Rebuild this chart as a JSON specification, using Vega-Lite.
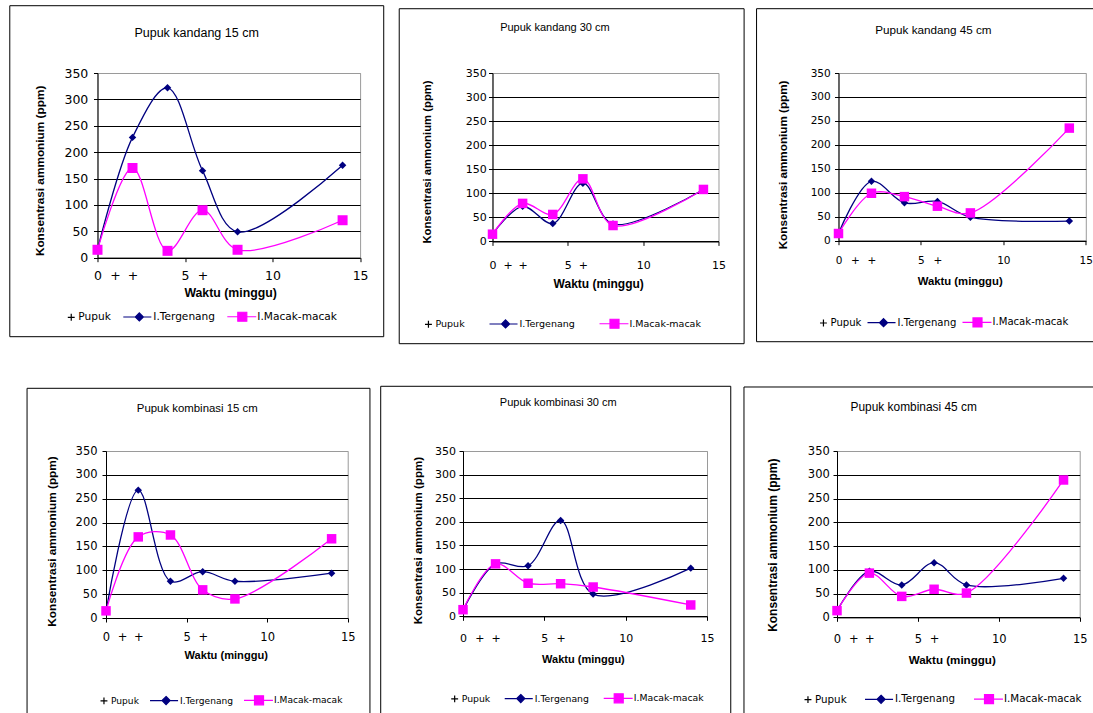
{
  "$schema": "https://vega.github.io/schema/vega-lite/v6.json",
  "usermeta": {"embedOptions": {"actions": false}},
  "background": "white",
  "padding": {"left": 8, "top": 4, "right": -12, "bottom": 0},
  "center": true,
  "spacing": 40,
  "resolve": {"scale": {"fill": "independent", "stroke": "independent", "shape": "independent"}, "legend": {"fill": "independent", "stroke": "independent", "shape": "independent"}},
  "data": {"values": [
    {"panel": "Pupuk kandang 15 cm", "series": "I.Tergenang", "week": 0, "value": 15},
    {"panel": "Pupuk kandang 15 cm", "series": "I.Tergenang", "week": 2, "value": 228},
    {"panel": "Pupuk kandang 15 cm", "series": "I.Tergenang", "week": 4, "value": 322},
    {"panel": "Pupuk kandang 15 cm", "series": "I.Tergenang", "week": 6, "value": 165},
    {"panel": "Pupuk kandang 15 cm", "series": "I.Tergenang", "week": 8, "value": 49},
    {"panel": "Pupuk kandang 15 cm", "series": "I.Tergenang", "week": 14, "value": 175},
    {"panel": "Pupuk kandang 15 cm", "series": "I.Macak-macak", "week": 0, "value": 15},
    {"panel": "Pupuk kandang 15 cm", "series": "I.Macak-macak", "week": 2, "value": 170},
    {"panel": "Pupuk kandang 15 cm", "series": "I.Macak-macak", "week": 4, "value": 13},
    {"panel": "Pupuk kandang 15 cm", "series": "I.Macak-macak", "week": 6, "value": 90},
    {"panel": "Pupuk kandang 15 cm", "series": "I.Macak-macak", "week": 8, "value": 15},
    {"panel": "Pupuk kandang 15 cm", "series": "I.Macak-macak", "week": 14, "value": 71},
    {"panel": "Pupuk kandang 30 cm", "series": "I.Tergenang", "week": 0, "value": 15},
    {"panel": "Pupuk kandang 30 cm", "series": "I.Tergenang", "week": 2, "value": 73},
    {"panel": "Pupuk kandang 30 cm", "series": "I.Tergenang", "week": 4, "value": 37},
    {"panel": "Pupuk kandang 30 cm", "series": "I.Tergenang", "week": 6, "value": 121},
    {"panel": "Pupuk kandang 30 cm", "series": "I.Tergenang", "week": 8, "value": 36},
    {"panel": "Pupuk kandang 30 cm", "series": "I.Tergenang", "week": 14, "value": 108},
    {"panel": "Pupuk kandang 30 cm", "series": "I.Macak-macak", "week": 0, "value": 15},
    {"panel": "Pupuk kandang 30 cm", "series": "I.Macak-macak", "week": 2, "value": 79},
    {"panel": "Pupuk kandang 30 cm", "series": "I.Macak-macak", "week": 4, "value": 56},
    {"panel": "Pupuk kandang 30 cm", "series": "I.Macak-macak", "week": 6, "value": 130},
    {"panel": "Pupuk kandang 30 cm", "series": "I.Macak-macak", "week": 8, "value": 33},
    {"panel": "Pupuk kandang 30 cm", "series": "I.Macak-macak", "week": 14, "value": 108},
    {"panel": "Pupuk kandang 45 cm", "series": "I.Tergenang", "week": 0, "value": 15},
    {"panel": "Pupuk kandang 45 cm", "series": "I.Tergenang", "week": 2, "value": 124},
    {"panel": "Pupuk kandang 45 cm", "series": "I.Tergenang", "week": 4, "value": 79},
    {"panel": "Pupuk kandang 45 cm", "series": "I.Tergenang", "week": 6, "value": 82},
    {"panel": "Pupuk kandang 45 cm", "series": "I.Tergenang", "week": 8, "value": 49},
    {"panel": "Pupuk kandang 45 cm", "series": "I.Tergenang", "week": 14, "value": 41},
    {"panel": "Pupuk kandang 45 cm", "series": "I.Macak-macak", "week": 0, "value": 15},
    {"panel": "Pupuk kandang 45 cm", "series": "I.Macak-macak", "week": 2, "value": 99},
    {"panel": "Pupuk kandang 45 cm", "series": "I.Macak-macak", "week": 4, "value": 92},
    {"panel": "Pupuk kandang 45 cm", "series": "I.Macak-macak", "week": 6, "value": 72},
    {"panel": "Pupuk kandang 45 cm", "series": "I.Macak-macak", "week": 8, "value": 58},
    {"panel": "Pupuk kandang 45 cm", "series": "I.Macak-macak", "week": 14, "value": 235},
    {"panel": "Pupuk kombinasi 15 cm", "series": "I.Tergenang", "week": 0, "value": 14},
    {"panel": "Pupuk kombinasi 15 cm", "series": "I.Tergenang", "week": 2, "value": 268},
    {"panel": "Pupuk kombinasi 15 cm", "series": "I.Tergenang", "week": 4, "value": 77},
    {"panel": "Pupuk kombinasi 15 cm", "series": "I.Tergenang", "week": 6, "value": 97},
    {"panel": "Pupuk kombinasi 15 cm", "series": "I.Tergenang", "week": 8, "value": 77},
    {"panel": "Pupuk kombinasi 15 cm", "series": "I.Tergenang", "week": 14, "value": 94},
    {"panel": "Pupuk kombinasi 15 cm", "series": "I.Macak-macak", "week": 0, "value": 15},
    {"panel": "Pupuk kombinasi 15 cm", "series": "I.Macak-macak", "week": 2, "value": 170},
    {"panel": "Pupuk kombinasi 15 cm", "series": "I.Macak-macak", "week": 4, "value": 174},
    {"panel": "Pupuk kombinasi 15 cm", "series": "I.Macak-macak", "week": 6, "value": 59},
    {"panel": "Pupuk kombinasi 15 cm", "series": "I.Macak-macak", "week": 8, "value": 40},
    {"panel": "Pupuk kombinasi 15 cm", "series": "I.Macak-macak", "week": 14, "value": 166},
    {"panel": "Pupuk kombinasi 30 cm", "series": "I.Tergenang", "week": 0, "value": 13},
    {"panel": "Pupuk kombinasi 30 cm", "series": "I.Tergenang", "week": 2, "value": 111},
    {"panel": "Pupuk kombinasi 30 cm", "series": "I.Tergenang", "week": 4, "value": 107},
    {"panel": "Pupuk kombinasi 30 cm", "series": "I.Tergenang", "week": 6, "value": 203},
    {"panel": "Pupuk kombinasi 30 cm", "series": "I.Tergenang", "week": 8, "value": 47},
    {"panel": "Pupuk kombinasi 30 cm", "series": "I.Tergenang", "week": 14, "value": 102},
    {"panel": "Pupuk kombinasi 30 cm", "series": "I.Macak-macak", "week": 0, "value": 14},
    {"panel": "Pupuk kombinasi 30 cm", "series": "I.Macak-macak", "week": 2, "value": 111},
    {"panel": "Pupuk kombinasi 30 cm", "series": "I.Macak-macak", "week": 4, "value": 70},
    {"panel": "Pupuk kombinasi 30 cm", "series": "I.Macak-macak", "week": 6, "value": 69},
    {"panel": "Pupuk kombinasi 30 cm", "series": "I.Macak-macak", "week": 8, "value": 62},
    {"panel": "Pupuk kombinasi 30 cm", "series": "I.Macak-macak", "week": 14, "value": 24},
    {"panel": "Pupuk kombinasi 45 cm", "series": "I.Tergenang", "week": 0, "value": 14},
    {"panel": "Pupuk kombinasi 45 cm", "series": "I.Tergenang", "week": 2, "value": 97},
    {"panel": "Pupuk kombinasi 45 cm", "series": "I.Tergenang", "week": 4, "value": 68},
    {"panel": "Pupuk kombinasi 45 cm", "series": "I.Tergenang", "week": 6, "value": 115},
    {"panel": "Pupuk kombinasi 45 cm", "series": "I.Tergenang", "week": 8, "value": 68},
    {"panel": "Pupuk kombinasi 45 cm", "series": "I.Tergenang", "week": 14, "value": 82},
    {"panel": "Pupuk kombinasi 45 cm", "series": "I.Macak-macak", "week": 0, "value": 14},
    {"panel": "Pupuk kombinasi 45 cm", "series": "I.Macak-macak", "week": 2, "value": 93},
    {"panel": "Pupuk kombinasi 45 cm", "series": "I.Macak-macak", "week": 4, "value": 44},
    {"panel": "Pupuk kombinasi 45 cm", "series": "I.Macak-macak", "week": 6, "value": 59},
    {"panel": "Pupuk kombinasi 45 cm", "series": "I.Macak-macak", "week": 8, "value": 51},
    {"panel": "Pupuk kombinasi 45 cm", "series": "I.Macak-macak", "week": 14, "value": 289}
  ]},
  "vconcat": [
    {"spacing": 12,
     "resolve": {"scale": {"fill": "independent", "stroke": "independent", "shape": "independent"}, "legend": {"fill": "independent", "stroke": "independent", "shape": "independent"}},
     "hconcat": [
      {
        "width": 262.6, "height": 184.7,
        "title": {"text": "Pupuk kandang 15 cm", "fontSize": 12.5, "offset": -34.5, "dx": -32.2},
        "layer": [
          {"data": {"values": [{}]}, "mark": {"type": "rect", "filled": false, "stroke": "#000000", "strokeWidth": 1},
           "encoding": {
             "x": {"datum": -5.01, "type": "quantitative", "scale": {"domain": [0, 15], "nice": false, "zero": false},
                   "axis": {"title": "Waktu (minggu)", "values": [0, 1, 2, 5, 6, 10, 15], "labelExpr": "datum.value == 1 || datum.value == 2 || datum.value == 6 ? '+' : datum.label", "tickOpacity": {"condition": {"test": "datum.value == 1 || datum.value == 2 || datum.value == 6", "value": 0}, "value": 1}, "labelFontSize": 12.5, "labelPadding": 8, "titleFontSize": 12.3, "titleX": 132.6, "titleY": 35, "titleAlign": "center", "titleBaseline": "middle", "grid": false}},
             "x2": {"datum": 16.35},
             "y": {"datum": -149.7, "type": "quantitative", "scale": {"domain": [0, 350], "nice": false},
                   "axis": {"title": "Konsentrasi ammonium (ppm)", "values": [0, 50, 100, 150, 200, 250, 300, 350], "grid": true, "gridColor": {"condition": {"test": "datum.value == 350", "value": "#9a9a9a"}, "value": "#000"}, "labelFontSize": 12.5, "labelPadding": 5.7, "titleFontSize": 11.8, "titleX": -58.2, "titleY": 97.4, "titleAlign": "center", "titleBaseline": "middle"}},
             "y2": {"datum": 477.5}}},
          {"encoding": {
             "x": {"field": "week", "type": "quantitative", "scale": {"domain": [0, 15], "nice": false, "zero": false},
                   "axis": {"title": "Waktu (minggu)", "values": [0, 1, 2, 5, 6, 10, 15], "labelExpr": "datum.value == 1 || datum.value == 2 || datum.value == 6 ? '+' : datum.label", "tickOpacity": {"condition": {"test": "datum.value == 1 || datum.value == 2 || datum.value == 6", "value": 0}, "value": 1}, "labelFontSize": 12.5, "labelPadding": 8, "titleFontSize": 12.3, "titleX": 132.6, "titleY": 35, "titleAlign": "center", "titleBaseline": "middle", "grid": false}},
             "y": {"field": "value", "type": "quantitative", "scale": {"domain": [0, 350], "nice": false},
                   "axis": {"title": "Konsentrasi ammonium (ppm)", "values": [0, 50, 100, 150, 200, 250, 300, 350], "grid": true, "gridColor": {"condition": {"test": "datum.value == 350", "value": "#9a9a9a"}, "value": "#000"}, "labelFontSize": 12.5, "labelPadding": 5.7, "titleFontSize": 11.8, "titleX": -58.2, "titleY": 97.4, "titleAlign": "center", "titleBaseline": "middle"}}},
           "layer": [
            {"transform": [{"filter": "datum.panel === 'Pupuk kandang 15 cm' && datum.series === 'I.Tergenang'"}],
             "mark": {"type": "line", "interpolate": "catmull-rom", "strokeWidth": 1.3, "color": "#000080"}},
            {"transform": [{"filter": "datum.panel === 'Pupuk kandang 15 cm' && datum.series === 'I.Tergenang'"}],
             "mark": {"type": "point", "shape": "diamond", "filled": true, "size": 56, "color": "#000080", "opacity": 1}},
            {"transform": [{"filter": "datum.panel === 'Pupuk kandang 15 cm' && datum.series === 'I.Macak-macak'"}],
             "mark": {"type": "line", "interpolate": "catmull-rom", "strokeWidth": 1.3, "color": "#ff00ff"}},
            {"transform": [{"filter": "datum.panel === 'Pupuk kandang 15 cm' && datum.series === 'I.Macak-macak'"}],
             "mark": {"type": "point", "shape": "square", "filled": true, "size": 100, "color": "#ff00ff", "opacity": 1}},
            {"transform": [{"filter": "false"}],
             "mark": {"type": "point", "filled": true, "opacity": 1},
             "encoding": {
               "fill": {"field": "series", "type": "nominal", "scale": {"domain": ["Pupuk", "I.Tergenang", "I.Macak-macak"], "range": ["#000000", "#000080", "#ff00ff"]},
                        "legend": {"title": null, "orient": "none", "direction": "horizontal", "legendX": -53.2, "legendY": 227.7, "labelFontSize": 10.6, "columnPadding": 8, "symbolSize": 900, "symbolStrokeWidth": 1.2, "labelOffset": 2, "padding": 0}},
               "stroke": {"field": "series", "type": "nominal", "scale": {"domain": ["Pupuk", "I.Tergenang", "I.Macak-macak"], "range": ["#000000", "#000080", "#ff00ff"]},
                        "legend": {"title": null, "orient": "none", "direction": "horizontal", "legendX": -53.2, "legendY": 227.7, "labelFontSize": 10.6, "columnPadding": 8, "symbolSize": 900, "symbolStrokeWidth": 1.2, "labelOffset": 2, "padding": 0}},
               "shape": {"field": "series", "type": "nominal", "scale": {"domain": ["Pupuk", "I.Tergenang", "I.Macak-macak"], "range": ["M0.5,0H0.96M0.73,-0.23V0.23", "M-0.8,0H1.07M0.27,-0.27L0.54,0L0.27,0.27L0,0Z", "M-0.8,0H1.13M-0.1,-0.3H0.5V0.3H-0.1Z"]},
                        "legend": {"title": null, "orient": "none", "direction": "horizontal", "legendX": -53.2, "legendY": 227.7, "labelFontSize": 10.6, "columnPadding": 8, "symbolSize": 900, "symbolStrokeWidth": 1.2, "labelOffset": 2, "padding": 0}}}}
           ]}
        ]
      },
      {"spacing": 10,
       "resolve": {"scale": {"fill": "independent", "stroke": "independent", "shape": "independent"}, "legend": {"fill": "independent", "stroke": "independent", "shape": "independent"}},
       "hconcat": [
        {
          "width": 226, "height": 168.4,
          "title": {"text": "Pupuk kandang 30 cm", "fontSize": 11, "offset": -25.2, "dx": -50.6},
          "layer": [
            {"data": {"values": [{}]}, "mark": {"type": "rect", "filled": false, "stroke": "#000000", "strokeWidth": 1},
             "encoding": {
               "x": {"datum": -6.19, "type": "quantitative", "scale": {"domain": [0, 15], "nice": false, "zero": false},
                     "axis": {"title": "Waktu (minggu)", "values": [0, 1, 2, 5, 6, 10, 15], "labelExpr": "datum.value == 1 || datum.value == 2 || datum.value == 6 ? '+' : datum.label", "tickOpacity": {"condition": {"test": "datum.value == 1 || datum.value == 2 || datum.value == 6", "value": 0}, "value": 1}, "labelFontSize": 11, "labelPadding": 14, "titleFontSize": 12.0, "titleX": 105.7, "titleY": 42, "titleAlign": "center", "titleBaseline": "middle", "grid": false}},
               "x2": {"datum": 16.70},
               "y": {"datum": -212.6, "type": "quantitative", "scale": {"domain": [0, 350], "nice": false},
                     "axis": {"title": "Konsentrasi ammonium (ppm)", "values": [0, 50, 100, 150, 200, 250, 300, 350], "grid": true, "gridColor": {"condition": {"test": "datum.value == 350", "value": "#9a9a9a"}, "value": "#000"}, "labelFontSize": 11, "labelPadding": 2.3, "titleFontSize": 11.3, "titleX": -65.1, "titleY": 88.5, "titleAlign": "center", "titleBaseline": "middle"}},
               "y2": {"datum": 483.6}}},
            {"encoding": {
               "x": {"field": "week", "type": "quantitative", "scale": {"domain": [0, 15], "nice": false, "zero": false},
                     "axis": {"title": "Waktu (minggu)", "values": [0, 1, 2, 5, 6, 10, 15], "labelExpr": "datum.value == 1 || datum.value == 2 || datum.value == 6 ? '+' : datum.label", "tickOpacity": {"condition": {"test": "datum.value == 1 || datum.value == 2 || datum.value == 6", "value": 0}, "value": 1}, "labelFontSize": 11, "labelPadding": 14, "titleFontSize": 12.0, "titleX": 105.7, "titleY": 42, "titleAlign": "center", "titleBaseline": "middle", "grid": false}},
               "y": {"field": "value", "type": "quantitative", "scale": {"domain": [0, 350], "nice": false},
                     "axis": {"title": "Konsentrasi ammonium (ppm)", "values": [0, 50, 100, 150, 200, 250, 300, 350], "grid": true, "gridColor": {"condition": {"test": "datum.value == 350", "value": "#9a9a9a"}, "value": "#000"}, "labelFontSize": 11, "labelPadding": 2.3, "titleFontSize": 11.3, "titleX": -65.1, "titleY": 88.5, "titleAlign": "center", "titleBaseline": "middle"}}},
             "layer": [
              {"transform": [{"filter": "datum.panel === 'Pupuk kandang 30 cm' && datum.series === 'I.Tergenang'"}],
               "mark": {"type": "line", "interpolate": "catmull-rom", "strokeWidth": 1.3, "color": "#000080"}},
              {"transform": [{"filter": "datum.panel === 'Pupuk kandang 30 cm' && datum.series === 'I.Tergenang'"}],
               "mark": {"type": "point", "shape": "diamond", "filled": true, "size": 56, "color": "#000080", "opacity": 1}},
              {"transform": [{"filter": "datum.panel === 'Pupuk kandang 30 cm' && datum.series === 'I.Macak-macak'"}],
               "mark": {"type": "line", "interpolate": "catmull-rom", "strokeWidth": 1.3, "color": "#ff00ff"}},
              {"transform": [{"filter": "datum.panel === 'Pupuk kandang 30 cm' && datum.series === 'I.Macak-macak'"}],
               "mark": {"type": "point", "shape": "square", "filled": true, "size": 90, "color": "#ff00ff", "opacity": 1}},
              {"transform": [{"filter": "false"}],
               "mark": {"type": "point", "filled": true, "opacity": 1},
               "encoding": {
                 "fill": {"field": "series", "type": "nominal", "scale": {"domain": ["Pupuk", "I.Tergenang", "I.Macak-macak"], "range": ["#000000", "#000080", "#ff00ff"]},
                          "legend": {"title": null, "orient": "none", "direction": "horizontal", "legendX": -91, "legendY": 234.7, "labelFontSize": 9.5, "columnPadding": 20, "symbolSize": 900, "symbolStrokeWidth": 1.2, "labelOffset": 2, "padding": 0}},
                 "stroke": {"field": "series", "type": "nominal", "scale": {"domain": ["Pupuk", "I.Tergenang", "I.Macak-macak"], "range": ["#000000", "#000080", "#ff00ff"]},
                          "legend": {"title": null, "orient": "none", "direction": "horizontal", "legendX": -91, "legendY": 234.7, "labelFontSize": 9.5, "columnPadding": 20, "symbolSize": 900, "symbolStrokeWidth": 1.2, "labelOffset": 2, "padding": 0}},
                 "shape": {"field": "series", "type": "nominal", "scale": {"domain": ["Pupuk", "I.Tergenang", "I.Macak-macak"], "range": ["M0.5,0H0.96M0.73,-0.23V0.23", "M-0.8,0H1.07M0.27,-0.27L0.54,0L0.27,0.27L0,0Z", "M-0.8,0H1.13M-0.1,-0.3H0.5V0.3H-0.1Z"]},
                          "legend": {"title": null, "orient": "none", "direction": "horizontal", "legendX": -91, "legendY": 234.7, "labelFontSize": 9.5, "columnPadding": 20, "symbolSize": 900, "symbolStrokeWidth": 1.2, "labelOffset": 2, "padding": 0}}}}
             ]}
          ]
        },
        {
          "width": 247.3, "height": 167.7,
          "title": {"text": "Pupuk kandang 45 cm", "fontSize": 11.7, "offset": -28.5, "dx": -28.7},
          "layer": [
            {"data": {"values": [{}]}, "mark": {"type": "rect", "filled": false, "stroke": "#000000", "strokeWidth": 1},
             "encoding": {
               "x": {"datum": -4.97, "type": "quantitative", "scale": {"domain": [0, 15], "nice": false, "zero": false},
                     "axis": {"title": "Waktu (minggu)", "values": [0, 1, 2, 5, 6, 10, 15], "labelExpr": "datum.value == 1 || datum.value == 2 || datum.value == 6 ? '+' : datum.label", "tickOpacity": {"condition": {"test": "datum.value == 1 || datum.value == 2 || datum.value == 6", "value": 0}, "value": 1}, "labelFontSize": 10.5, "labelPadding": 11, "titleFontSize": 11.3, "titleX": 121.2, "titleY": 40.7, "titleAlign": "center", "titleBaseline": "middle", "grid": false}},
               "x2": {"datum": 16.62},
               "y": {"datum": -210.8, "type": "quantitative", "scale": {"domain": [0, 350], "nice": false},
                     "axis": {"title": "Konsentrasi ammonium (ppm)", "values": [0, 50, 100, 150, 200, 250, 300, 350], "grid": true, "gridColor": {"condition": {"test": "datum.value == 350", "value": "#9a9a9a"}, "value": "#000"}, "labelFontSize": 10.5, "labelPadding": 4.3, "titleFontSize": 11.7, "titleX": -55.5, "titleY": 91.4, "titleAlign": "center", "titleBaseline": "middle"}},
               "y2": {"datum": 484.2}}},
            {"encoding": {
               "x": {"field": "week", "type": "quantitative", "scale": {"domain": [0, 15], "nice": false, "zero": false},
                     "axis": {"title": "Waktu (minggu)", "values": [0, 1, 2, 5, 6, 10, 15], "labelExpr": "datum.value == 1 || datum.value == 2 || datum.value == 6 ? '+' : datum.label", "tickOpacity": {"condition": {"test": "datum.value == 1 || datum.value == 2 || datum.value == 6", "value": 0}, "value": 1}, "labelFontSize": 10.5, "labelPadding": 11, "titleFontSize": 11.3, "titleX": 121.2, "titleY": 40.7, "titleAlign": "center", "titleBaseline": "middle", "grid": false}},
               "y": {"field": "value", "type": "quantitative", "scale": {"domain": [0, 350], "nice": false},
                     "axis": {"title": "Konsentrasi ammonium (ppm)", "values": [0, 50, 100, 150, 200, 250, 300, 350], "grid": true, "gridColor": {"condition": {"test": "datum.value == 350", "value": "#9a9a9a"}, "value": "#000"}, "labelFontSize": 10.5, "labelPadding": 4.3, "titleFontSize": 11.7, "titleX": -55.5, "titleY": 91.4, "titleAlign": "center", "titleBaseline": "middle"}}},
             "layer": [
              {"transform": [{"filter": "datum.panel === 'Pupuk kandang 45 cm' && datum.series === 'I.Tergenang'"}],
               "mark": {"type": "line", "interpolate": "catmull-rom", "strokeWidth": 1.3, "color": "#000080"}},
              {"transform": [{"filter": "datum.panel === 'Pupuk kandang 45 cm' && datum.series === 'I.Tergenang'"}],
               "mark": {"type": "point", "shape": "diamond", "filled": true, "size": 56, "color": "#000080", "opacity": 1}},
              {"transform": [{"filter": "datum.panel === 'Pupuk kandang 45 cm' && datum.series === 'I.Macak-macak'"}],
               "mark": {"type": "line", "interpolate": "catmull-rom", "strokeWidth": 1.3, "color": "#ff00ff"}},
              {"transform": [{"filter": "datum.panel === 'Pupuk kandang 45 cm' && datum.series === 'I.Macak-macak'"}],
               "mark": {"type": "point", "shape": "square", "filled": true, "size": 90, "color": "#ff00ff", "opacity": 1}},
              {"transform": [{"filter": "false"}],
               "mark": {"type": "point", "filled": true, "opacity": 1},
               "encoding": {
                 "fill": {"field": "series", "type": "nominal", "scale": {"domain": ["Pupuk", "I.Tergenang", "I.Macak-macak"], "range": ["#000000", "#000080", "#ff00ff"]},
                          "legend": {"title": null, "orient": "none", "direction": "horizontal", "legendX": -42, "legendY": 233.4, "labelFontSize": 10.1, "columnPadding": 2, "symbolSize": 900, "symbolStrokeWidth": 1.2, "labelOffset": 2, "padding": 0}},
                 "stroke": {"field": "series", "type": "nominal", "scale": {"domain": ["Pupuk", "I.Tergenang", "I.Macak-macak"], "range": ["#000000", "#000080", "#ff00ff"]},
                          "legend": {"title": null, "orient": "none", "direction": "horizontal", "legendX": -42, "legendY": 233.4, "labelFontSize": 10.1, "columnPadding": 2, "symbolSize": 900, "symbolStrokeWidth": 1.2, "labelOffset": 2, "padding": 0}},
                 "shape": {"field": "series", "type": "nominal", "scale": {"domain": ["Pupuk", "I.Tergenang", "I.Macak-macak"], "range": ["M0.5,0H0.96M0.73,-0.23V0.23", "M-0.8,0H1.07M0.27,-0.27L0.54,0L0.27,0.27L0,0Z", "M-0.8,0H1.13M-0.1,-0.3H0.5V0.3H-0.1Z"]},
                          "legend": {"title": null, "orient": "none", "direction": "horizontal", "legendX": -42, "legendY": 233.4, "labelFontSize": 10.1, "columnPadding": 2, "symbolSize": 900, "symbolStrokeWidth": 1.2, "labelOffset": 2, "padding": 0}}}}
             ]}
          ]
        }
      ]}
    ]},
    {"spacing": 8,
     "resolve": {"scale": {"fill": "independent", "stroke": "independent", "shape": "independent"}, "legend": {"fill": "independent", "stroke": "independent", "shape": "independent"}},
     "hconcat": [
      {
        "width": 241.7, "height": 167,
        "title": {"text": "Pupuk kombinasi 15 cm", "fontSize": 11.4, "offset": -26.2, "dx": -29.6},
        "layer": [
          {"data": {"values": [{}]}, "mark": {"type": "rect", "filled": false, "stroke": "#000000", "strokeWidth": 1},
           "encoding": {
             "x": {"datum": -4.90, "type": "quantitative", "scale": {"domain": [0, 15], "nice": false, "zero": false},
                   "axis": {"title": "Waktu (minggu)", "values": [0, 1, 2, 5, 6, 10, 15], "labelExpr": "datum.value == 1 || datum.value == 2 || datum.value == 6 ? '+' : datum.label", "tickOpacity": {"condition": {"test": "datum.value == 1 || datum.value == 2 || datum.value == 6", "value": 0}, "value": 1}, "labelFontSize": 11.5, "labelPadding": 9.5, "titleFontSize": 11.1, "titleX": 119.7, "titleY": 37.6, "titleAlign": "center", "titleBaseline": "middle", "grid": false}},
             "x2": {"datum": 16.38},
             "y": {"datum": -208.1, "type": "quantitative", "scale": {"domain": [0, 350], "nice": false},
                   "axis": {"title": "Konsentrasi ammonium (ppm)", "values": [0, 50, 100, 150, 200, 250, 300, 350], "grid": true, "gridColor": {"condition": {"test": "datum.value == 350", "value": "#9a9a9a"}, "value": "#000"}, "labelFontSize": 11.5, "labelPadding": 5, "titleFontSize": 11.8, "titleX": -54.2, "titleY": 90, "titleAlign": "center", "titleBaseline": "middle"}},
             "y2": {"datum": 481.4}}},
          {"encoding": {
             "x": {"field": "week", "type": "quantitative", "scale": {"domain": [0, 15], "nice": false, "zero": false},
                   "axis": {"title": "Waktu (minggu)", "values": [0, 1, 2, 5, 6, 10, 15], "labelExpr": "datum.value == 1 || datum.value == 2 || datum.value == 6 ? '+' : datum.label", "tickOpacity": {"condition": {"test": "datum.value == 1 || datum.value == 2 || datum.value == 6", "value": 0}, "value": 1}, "labelFontSize": 11.5, "labelPadding": 9.5, "titleFontSize": 11.1, "titleX": 119.7, "titleY": 37.6, "titleAlign": "center", "titleBaseline": "middle", "grid": false}},
             "y": {"field": "value", "type": "quantitative", "scale": {"domain": [0, 350], "nice": false},
                   "axis": {"title": "Konsentrasi ammonium (ppm)", "values": [0, 50, 100, 150, 200, 250, 300, 350], "grid": true, "gridColor": {"condition": {"test": "datum.value == 350", "value": "#9a9a9a"}, "value": "#000"}, "labelFontSize": 11.5, "labelPadding": 5, "titleFontSize": 11.8, "titleX": -54.2, "titleY": 90, "titleAlign": "center", "titleBaseline": "middle"}}},
           "layer": [
            {"transform": [{"filter": "datum.panel === 'Pupuk kombinasi 15 cm' && datum.series === 'I.Tergenang'"}],
             "mark": {"type": "line", "interpolate": "catmull-rom", "strokeWidth": 1.3, "color": "#000080"}},
            {"transform": [{"filter": "datum.panel === 'Pupuk kombinasi 15 cm' && datum.series === 'I.Tergenang'"}],
             "mark": {"type": "point", "shape": "diamond", "filled": true, "size": 56, "color": "#000080", "opacity": 1}},
            {"transform": [{"filter": "datum.panel === 'Pupuk kombinasi 15 cm' && datum.series === 'I.Macak-macak'"}],
             "mark": {"type": "line", "interpolate": "catmull-rom", "strokeWidth": 1.3, "color": "#ff00ff"}},
            {"transform": [{"filter": "datum.panel === 'Pupuk kombinasi 15 cm' && datum.series === 'I.Macak-macak'"}],
             "mark": {"type": "point", "shape": "square", "filled": true, "size": 90, "color": "#ff00ff", "opacity": 1}},
            {"transform": [{"filter": "false"}],
             "mark": {"type": "point", "filled": true, "opacity": 1},
             "encoding": {
               "fill": {"field": "series", "type": "nominal", "scale": {"domain": ["Pupuk", "I.Tergenang", "I.Macak-macak"], "range": ["#000000", "#000080", "#ff00ff"]},
                        "legend": {"title": null, "orient": "none", "direction": "horizontal", "legendX": -29, "legendY": 233.3, "labelFontSize": 9.1, "columnPadding": 7, "symbolSize": 900, "symbolStrokeWidth": 1.2, "labelOffset": 2, "padding": 0}},
               "stroke": {"field": "series", "type": "nominal", "scale": {"domain": ["Pupuk", "I.Tergenang", "I.Macak-macak"], "range": ["#000000", "#000080", "#ff00ff"]},
                        "legend": {"title": null, "orient": "none", "direction": "horizontal", "legendX": -29, "legendY": 233.3, "labelFontSize": 9.1, "columnPadding": 7, "symbolSize": 900, "symbolStrokeWidth": 1.2, "labelOffset": 2, "padding": 0}},
               "shape": {"field": "series", "type": "nominal", "scale": {"domain": ["Pupuk", "I.Tergenang", "I.Macak-macak"], "range": ["M0.5,0H0.96M0.73,-0.23V0.23", "M-0.8,0H1.07M0.27,-0.27L0.54,0L0.27,0.27L0,0Z", "M-0.8,0H1.13M-0.1,-0.3H0.5V0.3H-0.1Z"]},
                        "legend": {"title": null, "orient": "none", "direction": "horizontal", "legendX": -29, "legendY": 233.3, "labelFontSize": 9.1, "columnPadding": 7, "symbolSize": 900, "symbolStrokeWidth": 1.2, "labelOffset": 2, "padding": 0}}}}
           ]}
        ]
      },
      {"spacing": 10,
       "resolve": {"scale": {"fill": "independent", "stroke": "independent", "shape": "independent"}, "legend": {"fill": "independent", "stroke": "independent", "shape": "independent"}},
       "hconcat": [
        {
          "width": 244, "height": 165.3,
          "title": {"text": "Pupuk kombinasi 30 cm", "fontSize": 11, "offset": -22.3, "dx": -26.8},
          "layer": [
            {"data": {"values": [{}]}, "mark": {"type": "rect", "filled": false, "stroke": "#000000", "strokeWidth": 1},
             "encoding": {
               "x": {"datum": -5.06, "type": "quantitative", "scale": {"domain": [0, 15], "nice": false, "zero": false},
                     "axis": {"title": "Waktu (minggu)", "values": [0, 1, 2, 5, 6, 10, 15], "labelExpr": "datum.value == 1 || datum.value == 2 || datum.value == 6 ? '+' : datum.label", "tickOpacity": {"condition": {"test": "datum.value == 1 || datum.value == 2 || datum.value == 6", "value": 0}, "value": 1}, "labelFontSize": 11, "labelPadding": 12.6, "titleFontSize": 11.0, "titleX": 119.9, "titleY": 43, "titleAlign": "center", "titleBaseline": "middle", "grid": false}},
               "x2": {"datum": 16.46},
               "y": {"datum": -209.6, "type": "quantitative", "scale": {"domain": [0, 350], "nice": false},
                     "axis": {"title": "Konsentrasi ammonium (ppm)", "values": [0, 50, 100, 150, 200, 250, 300, 350], "grid": true, "gridColor": {"condition": {"test": "datum.value == 350", "value": "#9a9a9a"}, "value": "#000"}, "labelFontSize": 11, "labelPadding": 3.6, "titleFontSize": 11.6, "titleX": -44.3, "titleY": 89.1, "titleAlign": "center", "titleBaseline": "middle"}},
               "y2": {"datum": 487.0}}},
            {"encoding": {
               "x": {"field": "week", "type": "quantitative", "scale": {"domain": [0, 15], "nice": false, "zero": false},
                     "axis": {"title": "Waktu (minggu)", "values": [0, 1, 2, 5, 6, 10, 15], "labelExpr": "datum.value == 1 || datum.value == 2 || datum.value == 6 ? '+' : datum.label", "tickOpacity": {"condition": {"test": "datum.value == 1 || datum.value == 2 || datum.value == 6", "value": 0}, "value": 1}, "labelFontSize": 11, "labelPadding": 12.6, "titleFontSize": 11.0, "titleX": 119.9, "titleY": 43, "titleAlign": "center", "titleBaseline": "middle", "grid": false}},
               "y": {"field": "value", "type": "quantitative", "scale": {"domain": [0, 350], "nice": false},
                     "axis": {"title": "Konsentrasi ammonium (ppm)", "values": [0, 50, 100, 150, 200, 250, 300, 350], "grid": true, "gridColor": {"condition": {"test": "datum.value == 350", "value": "#9a9a9a"}, "value": "#000"}, "labelFontSize": 11, "labelPadding": 3.6, "titleFontSize": 11.6, "titleX": -44.3, "titleY": 89.1, "titleAlign": "center", "titleBaseline": "middle"}}},
             "layer": [
              {"transform": [{"filter": "datum.panel === 'Pupuk kombinasi 30 cm' && datum.series === 'I.Tergenang'"}],
               "mark": {"type": "line", "interpolate": "catmull-rom", "strokeWidth": 1.3, "color": "#000080"}},
              {"transform": [{"filter": "datum.panel === 'Pupuk kombinasi 30 cm' && datum.series === 'I.Tergenang'"}],
               "mark": {"type": "point", "shape": "diamond", "filled": true, "size": 56, "color": "#000080", "opacity": 1}},
              {"transform": [{"filter": "datum.panel === 'Pupuk kombinasi 30 cm' && datum.series === 'I.Macak-macak'"}],
               "mark": {"type": "line", "interpolate": "catmull-rom", "strokeWidth": 1.3, "color": "#ff00ff"}},
              {"transform": [{"filter": "datum.panel === 'Pupuk kombinasi 30 cm' && datum.series === 'I.Macak-macak'"}],
               "mark": {"type": "point", "shape": "square", "filled": true, "size": 90, "color": "#ff00ff", "opacity": 1}},
              {"transform": [{"filter": "false"}],
               "mark": {"type": "point", "filled": true, "opacity": 1},
               "encoding": {
                 "fill": {"field": "series", "type": "nominal", "scale": {"domain": ["Pupuk", "I.Tergenang", "I.Macak-macak"], "range": ["#000000", "#000080", "#ff00ff"]},
                          "legend": {"title": null, "orient": "none", "direction": "horizontal", "legendX": -35.3, "legendY": 231.3, "labelFontSize": 9.3, "columnPadding": 10, "symbolSize": 900, "symbolStrokeWidth": 1.2, "labelOffset": 2, "padding": 0}},
                 "stroke": {"field": "series", "type": "nominal", "scale": {"domain": ["Pupuk", "I.Tergenang", "I.Macak-macak"], "range": ["#000000", "#000080", "#ff00ff"]},
                          "legend": {"title": null, "orient": "none", "direction": "horizontal", "legendX": -35.3, "legendY": 231.3, "labelFontSize": 9.3, "columnPadding": 10, "symbolSize": 900, "symbolStrokeWidth": 1.2, "labelOffset": 2, "padding": 0}},
                 "shape": {"field": "series", "type": "nominal", "scale": {"domain": ["Pupuk", "I.Tergenang", "I.Macak-macak"], "range": ["M0.5,0H0.96M0.73,-0.23V0.23", "M-0.8,0H1.07M0.27,-0.27L0.54,0L0.27,0.27L0,0Z", "M-0.8,0H1.13M-0.1,-0.3H0.5V0.3H-0.1Z"]},
                          "legend": {"title": null, "orient": "none", "direction": "horizontal", "legendX": -35.3, "legendY": 231.3, "labelFontSize": 9.3, "columnPadding": 10, "symbolSize": 900, "symbolStrokeWidth": 1.2, "labelOffset": 2, "padding": 0}}}}
             ]}
          ]
        },
        {
          "width": 242.7, "height": 166.3,
          "title": {"text": "Pupuk kombinasi 45 cm", "fontSize": 11.9, "offset": -27.2, "dx": -44.7},
          "layer": [
            {"data": {"values": [{}]}, "mark": {"type": "rect", "filled": false, "stroke": "#000000", "strokeWidth": 1},
             "encoding": {
               "x": {"datum": -5.75, "type": "quantitative", "scale": {"domain": [0, 15], "nice": false, "zero": false},
                     "axis": {"title": "Waktu (minggu)", "values": [0, 1, 2, 5, 6, 10, 15], "labelExpr": "datum.value == 1 || datum.value == 2 || datum.value == 6 ? '+' : datum.label", "tickOpacity": {"condition": {"test": "datum.value == 1 || datum.value == 2 || datum.value == 6", "value": 0}, "value": 1}, "labelFontSize": 11.5, "labelPadding": 12, "titleFontSize": 11.6, "titleX": 114.7, "titleY": 42.7, "titleAlign": "center", "titleBaseline": "middle", "grid": false}},
               "x2": {"datum": 16.50},
               "y": {"datum": -207.7, "type": "quantitative", "scale": {"domain": [0, 350], "nice": false},
                     "axis": {"title": "Konsentrasi ammonium (ppm)", "values": [0, 50, 100, 150, 200, 250, 300, 350], "grid": true, "gridColor": {"condition": {"test": "datum.value == 350", "value": "#9a9a9a"}, "value": "#000"}, "labelFontSize": 11.5, "labelPadding": 3.7, "titleFontSize": 12.0, "titleX": -64.2, "titleY": 93.7, "titleAlign": "center", "titleBaseline": "middle"}},
               "y2": {"datum": 484.7}}},
            {"encoding": {
               "x": {"field": "week", "type": "quantitative", "scale": {"domain": [0, 15], "nice": false, "zero": false},
                     "axis": {"title": "Waktu (minggu)", "values": [0, 1, 2, 5, 6, 10, 15], "labelExpr": "datum.value == 1 || datum.value == 2 || datum.value == 6 ? '+' : datum.label", "tickOpacity": {"condition": {"test": "datum.value == 1 || datum.value == 2 || datum.value == 6", "value": 0}, "value": 1}, "labelFontSize": 11.5, "labelPadding": 12, "titleFontSize": 11.6, "titleX": 114.7, "titleY": 42.7, "titleAlign": "center", "titleBaseline": "middle", "grid": false}},
               "y": {"field": "value", "type": "quantitative", "scale": {"domain": [0, 350], "nice": false},
                     "axis": {"title": "Konsentrasi ammonium (ppm)", "values": [0, 50, 100, 150, 200, 250, 300, 350], "grid": true, "gridColor": {"condition": {"test": "datum.value == 350", "value": "#9a9a9a"}, "value": "#000"}, "labelFontSize": 11.5, "labelPadding": 3.7, "titleFontSize": 12.0, "titleX": -64.2, "titleY": 93.7, "titleAlign": "center", "titleBaseline": "middle"}}},
             "layer": [
              {"transform": [{"filter": "datum.panel === 'Pupuk kombinasi 45 cm' && datum.series === 'I.Tergenang'"}],
               "mark": {"type": "line", "interpolate": "catmull-rom", "strokeWidth": 1.3, "color": "#000080"}},
              {"transform": [{"filter": "datum.panel === 'Pupuk kombinasi 45 cm' && datum.series === 'I.Tergenang'"}],
               "mark": {"type": "point", "shape": "diamond", "filled": true, "size": 56, "color": "#000080", "opacity": 1}},
              {"transform": [{"filter": "datum.panel === 'Pupuk kombinasi 45 cm' && datum.series === 'I.Macak-macak'"}],
               "mark": {"type": "line", "interpolate": "catmull-rom", "strokeWidth": 1.3, "color": "#ff00ff"}},
              {"transform": [{"filter": "datum.panel === 'Pupuk kombinasi 45 cm' && datum.series === 'I.Macak-macak'"}],
               "mark": {"type": "point", "shape": "square", "filled": true, "size": 90, "color": "#ff00ff", "opacity": 1}},
              {"transform": [{"filter": "false"}],
               "mark": {"type": "point", "filled": true, "opacity": 1},
               "encoding": {
                 "fill": {"field": "series", "type": "nominal", "scale": {"domain": ["Pupuk", "I.Tergenang", "I.Macak-macak"], "range": ["#000000", "#000080", "#ff00ff"]},
                          "legend": {"title": null, "orient": "none", "direction": "horizontal", "legendX": -56, "legendY": 232, "labelFontSize": 10.3, "columnPadding": 14, "symbolSize": 900, "symbolStrokeWidth": 1.2, "labelOffset": 2, "padding": 0}},
                 "stroke": {"field": "series", "type": "nominal", "scale": {"domain": ["Pupuk", "I.Tergenang", "I.Macak-macak"], "range": ["#000000", "#000080", "#ff00ff"]},
                          "legend": {"title": null, "orient": "none", "direction": "horizontal", "legendX": -56, "legendY": 232, "labelFontSize": 10.3, "columnPadding": 14, "symbolSize": 900, "symbolStrokeWidth": 1.2, "labelOffset": 2, "padding": 0}},
                 "shape": {"field": "series", "type": "nominal", "scale": {"domain": ["Pupuk", "I.Tergenang", "I.Macak-macak"], "range": ["M0.5,0H0.96M0.73,-0.23V0.23", "M-0.8,0H1.07M0.27,-0.27L0.54,0L0.27,0.27L0,0Z", "M-0.8,0H1.13M-0.1,-0.3H0.5V0.3H-0.1Z"]},
                          "legend": {"title": null, "orient": "none", "direction": "horizontal", "legendX": -56, "legendY": 232, "labelFontSize": 10.3, "columnPadding": 14, "symbolSize": 900, "symbolStrokeWidth": 1.2, "labelOffset": 2, "padding": 0}}}}
             ]}
          ]
        }
      ]}
    ]}
  ],
  "config": {
    "view": {"stroke": "#9a9a9a", "strokeWidth": 1},
    "font": "Liberation Sans",
    "axis": {"domainColor": "#000", "domainWidth": 1, "tickColor": "#000", "tickSize": 4, "tickWidth": 1, "labelColor": "#000", "labelFont": "DejaVu Sans", "titleColor": "#000", "titleFont": "Liberation Sans", "titleFontWeight": "bold", "gridColor": "#000", "gridWidth": 1, "gridOpacity": 1, "labelFlush": false, "labelOverlap": false},
    "legend": {"labelFont": "DejaVu Sans", "labelColor": "#000", "labelLimit": 300},
    "title": {"font": "Liberation Sans", "fontWeight": "normal", "color": "#000", "anchor": "middle", "frame": "group", "baseline": "middle"}
  }
}
